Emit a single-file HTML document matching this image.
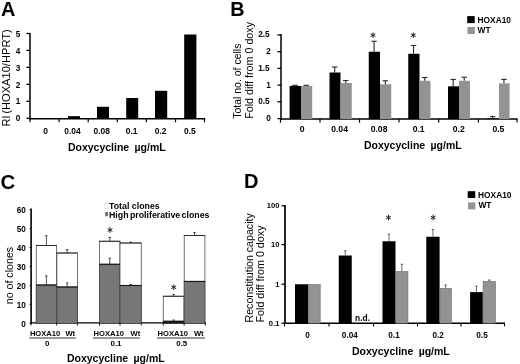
<!DOCTYPE html><html><head><meta charset="utf-8"><style>html,body{margin:0;padding:0;background:#fff;}svg{display:block;will-change:transform;opacity:0.999}text{font-family:"Liberation Sans",sans-serif;fill:#000}.b{font-weight:bold}</style></head><body>
<svg width="520" height="364" viewBox="0 0 520 364">
<rect width="520" height="364" fill="#fff"/>
<text x="1.1" y="15.5" font-size="19.9" text-anchor="start" class="b">A</text>
<text x="230.3" y="15.6" font-size="19.8" text-anchor="start" class="b">B</text>
<text x="0.4" y="189.3" font-size="20.4" text-anchor="start" class="b">C</text>
<text x="243.9" y="187.8" font-size="20" text-anchor="start" class="b">D</text>
<line x1="30" y1="32.9" x2="30" y2="119.5" stroke="#000" stroke-width="1.5"/>
<line x1="29.3" y1="118.8" x2="205.2" y2="118.8" stroke="#000" stroke-width="1.5"/>
<line x1="26.4" y1="33.5" x2="30" y2="33.5" stroke="#000" stroke-width="1.3"/>
<text transform="translate(20.4,36.6) scale(0.93,1)" font-size="8.8" text-anchor="end" class="b">5</text>
<line x1="26.4" y1="50.4" x2="30" y2="50.4" stroke="#000" stroke-width="1.3"/>
<text transform="translate(20.4,53.5) scale(0.93,1)" font-size="8.8" text-anchor="end" class="b">4</text>
<line x1="26.4" y1="67.4" x2="30" y2="67.4" stroke="#000" stroke-width="1.3"/>
<text transform="translate(20.4,70.5) scale(0.93,1)" font-size="8.8" text-anchor="end" class="b">3</text>
<line x1="26.4" y1="84.4" x2="30" y2="84.4" stroke="#000" stroke-width="1.3"/>
<text transform="translate(20.4,87.5) scale(0.93,1)" font-size="8.8" text-anchor="end" class="b">2</text>
<line x1="26.4" y1="101.3" x2="30" y2="101.3" stroke="#000" stroke-width="1.3"/>
<text transform="translate(20.4,104.39999999999999) scale(0.93,1)" font-size="8.8" text-anchor="end" class="b">1</text>
<line x1="26.4" y1="118.3" x2="30" y2="118.3" stroke="#000" stroke-width="1.3"/>
<text transform="translate(20.4,121.39999999999999) scale(0.93,1)" font-size="8.8" text-anchor="end" class="b">0</text>
<line x1="30" y1="118.8" x2="30" y2="122.3" stroke="#000" stroke-width="1.2"/>
<line x1="59.1" y1="118.8" x2="59.1" y2="122.3" stroke="#000" stroke-width="1.2"/>
<line x1="88.2" y1="118.8" x2="88.2" y2="122.3" stroke="#000" stroke-width="1.2"/>
<line x1="117.3" y1="118.8" x2="117.3" y2="122.3" stroke="#000" stroke-width="1.2"/>
<line x1="146.4" y1="118.8" x2="146.4" y2="122.3" stroke="#000" stroke-width="1.2"/>
<line x1="175.5" y1="118.8" x2="175.5" y2="122.3" stroke="#000" stroke-width="1.2"/>
<line x1="204.5" y1="118.8" x2="204.5" y2="122.3" stroke="#000" stroke-width="1.2"/>
<text transform="translate(45.55,133.7) scale(0.93,1)" font-size="9.1" text-anchor="middle" class="b">0</text>
<text transform="translate(72.45,133.7) scale(0.93,1)" font-size="9.1" text-anchor="middle" class="b">0.04</text>
<text transform="translate(101.75,133.7) scale(0.93,1)" font-size="9.1" text-anchor="middle" class="b">0.08</text>
<text transform="translate(131.54999999999998,133.7) scale(0.93,1)" font-size="9.1" text-anchor="middle" class="b">0.1</text>
<text transform="translate(160.64999999999998,133.7) scale(0.93,1)" font-size="9.1" text-anchor="middle" class="b">0.2</text>
<text transform="translate(189.8,133.7) scale(0.93,1)" font-size="9.1" text-anchor="middle" class="b">0.5</text>
<rect x="68" y="116.2" width="12" height="2.5999999999999943" fill="#000"/>
<rect x="97" y="106.8" width="12" height="12.0" fill="#000"/>
<rect x="126.2" y="98" width="11.999999999999986" height="20.799999999999997" fill="#000"/>
<rect x="155" y="90.8" width="12.199999999999989" height="28.0" fill="#000"/>
<rect x="184.2" y="34.5" width="12.200000000000017" height="84.3" fill="#000"/>
<text x="116.8" y="151.1" font-size="10.5" text-anchor="middle" class="b" word-spacing="2.4">Doxycycline µg/mL</text>
<text transform="translate(10.3,126.2) rotate(-90)" font-size="10.6" text-anchor="start">RI</text>
<text transform="translate(10.3,113.7) rotate(-90)" font-size="10.8" text-anchor="start" textLength="84.4" lengthAdjust="spacingAndGlyphs">(HOXA10/HPRT)</text>
<line x1="281" y1="34.1" x2="281" y2="119.7" stroke="#000" stroke-width="1.5"/>
<line x1="280.3" y1="119.0" x2="517.6" y2="119.0" stroke="#000" stroke-width="1.5"/>
<line x1="277.5" y1="35" x2="281" y2="35" stroke="#000" stroke-width="1.3"/>
<text transform="translate(269.6,37.4) scale(0.93,1)" font-size="8.8" text-anchor="end" class="b">2.5</text>
<line x1="277.5" y1="51.7" x2="281" y2="51.7" stroke="#000" stroke-width="1.3"/>
<text transform="translate(270.8,54.1) scale(0.93,1)" font-size="8.8" text-anchor="end" class="b">2</text>
<line x1="277.5" y1="68.4" x2="281" y2="68.4" stroke="#000" stroke-width="1.3"/>
<text transform="translate(269.6,70.80000000000001) scale(0.93,1)" font-size="8.8" text-anchor="end" class="b">1.5</text>
<line x1="277.5" y1="85.1" x2="281" y2="85.1" stroke="#000" stroke-width="1.3"/>
<text transform="translate(270.8,87.5) scale(0.93,1)" font-size="8.8" text-anchor="end" class="b">1</text>
<line x1="277.5" y1="101.8" x2="281" y2="101.8" stroke="#000" stroke-width="1.3"/>
<text transform="translate(269.6,104.2) scale(0.93,1)" font-size="8.8" text-anchor="end" class="b">0.5</text>
<line x1="277.5" y1="118.6" x2="281" y2="118.6" stroke="#000" stroke-width="1.3"/>
<text transform="translate(270.8,121.0) scale(0.93,1)" font-size="8.8" text-anchor="end" class="b">0</text>
<line x1="280.5" y1="119.0" x2="280.5" y2="122.6" stroke="#000" stroke-width="1.2"/>
<line x1="320" y1="119.0" x2="320" y2="122.6" stroke="#000" stroke-width="1.2"/>
<line x1="359.5" y1="119.0" x2="359.5" y2="122.6" stroke="#000" stroke-width="1.2"/>
<line x1="399" y1="119.0" x2="399" y2="122.6" stroke="#000" stroke-width="1.2"/>
<line x1="438.7" y1="119.0" x2="438.7" y2="122.6" stroke="#000" stroke-width="1.2"/>
<line x1="478.4" y1="119.0" x2="478.4" y2="122.6" stroke="#000" stroke-width="1.2"/>
<line x1="517" y1="119.0" x2="517" y2="122.6" stroke="#000" stroke-width="1.2"/>
<text transform="translate(302.05,132.1) scale(0.93,1)" font-size="9.3" text-anchor="middle" class="b">0</text>
<text transform="translate(339.55,132.1) scale(0.93,1)" font-size="9.3" text-anchor="middle" class="b">0.04</text>
<text transform="translate(379.05,132.1) scale(0.93,1)" font-size="9.3" text-anchor="middle" class="b">0.08</text>
<text transform="translate(418.65000000000003,132.1) scale(0.93,1)" font-size="9.3" text-anchor="middle" class="b">0.1</text>
<text transform="translate(458.74999999999994,132.1) scale(0.93,1)" font-size="9.3" text-anchor="middle" class="b">0.2</text>
<text transform="translate(498.4,132.1) scale(0.93,1)" font-size="9.3" text-anchor="middle" class="b">0.5</text>
<rect x="289.6" y="85.9" width="11.399999999999977" height="33.099999999999994" fill="#000"/>
<rect x="301" y="85.9" width="11.199999999999989" height="33.099999999999994" fill="#939393"/>
<line x1="295.0" y1="85.9" x2="295.0" y2="85.3" stroke="#2a2a2a" stroke-width="1.1"/>
<line x1="292.3" y1="85.3" x2="297.7" y2="85.3" stroke="#2a2a2a" stroke-width="1.1"/>
<line x1="306.3" y1="85.9" x2="306.3" y2="85.3" stroke="#2a2a2a" stroke-width="1.1"/>
<line x1="303.6" y1="85.3" x2="309.0" y2="85.3" stroke="#2a2a2a" stroke-width="1.1"/>
<rect x="329.5" y="72.5" width="11.0" height="46.5" fill="#000"/>
<rect x="340.5" y="83" width="11.25" height="36.0" fill="#939393"/>
<line x1="334.7" y1="72.5" x2="334.7" y2="67" stroke="#2a2a2a" stroke-width="1.1"/>
<line x1="332.0" y1="67" x2="337.4" y2="67" stroke="#2a2a2a" stroke-width="1.1"/>
<line x1="345.825" y1="83" x2="345.825" y2="80.5" stroke="#2a2a2a" stroke-width="1.1"/>
<line x1="343.125" y1="80.5" x2="348.525" y2="80.5" stroke="#2a2a2a" stroke-width="1.1"/>
<rect x="368.75" y="51.75" width="11.25" height="67.25" fill="#000"/>
<rect x="380" y="84.25" width="11.25" height="34.75" fill="#939393"/>
<line x1="374.075" y1="51.75" x2="374.075" y2="41.25" stroke="#2a2a2a" stroke-width="1.1"/>
<line x1="371.375" y1="41.25" x2="376.775" y2="41.25" stroke="#2a2a2a" stroke-width="1.1"/>
<line x1="385.325" y1="84.25" x2="385.325" y2="80.75" stroke="#2a2a2a" stroke-width="1.1"/>
<line x1="382.625" y1="80.75" x2="388.025" y2="80.75" stroke="#2a2a2a" stroke-width="1.1"/>
<rect x="408.25" y="53.75" width="11.25" height="65.25" fill="#000"/>
<rect x="419.5" y="80.75" width="11.0" height="38.25" fill="#939393"/>
<line x1="413.575" y1="53.75" x2="413.575" y2="45.5" stroke="#2a2a2a" stroke-width="1.1"/>
<line x1="410.875" y1="45.5" x2="416.275" y2="45.5" stroke="#2a2a2a" stroke-width="1.1"/>
<line x1="424.7" y1="80.75" x2="424.7" y2="77.5" stroke="#2a2a2a" stroke-width="1.1"/>
<line x1="422.0" y1="77.5" x2="427.4" y2="77.5" stroke="#2a2a2a" stroke-width="1.1"/>
<rect x="448" y="86.3" width="11" height="32.7" fill="#000"/>
<rect x="459" y="80.8" width="11" height="38.2" fill="#939393"/>
<line x1="453.2" y1="86.3" x2="453.2" y2="79.4" stroke="#2a2a2a" stroke-width="1.1"/>
<line x1="450.5" y1="79.4" x2="455.9" y2="79.4" stroke="#2a2a2a" stroke-width="1.1"/>
<line x1="464.2" y1="80.8" x2="464.2" y2="77.2" stroke="#2a2a2a" stroke-width="1.1"/>
<line x1="461.5" y1="77.2" x2="466.9" y2="77.2" stroke="#2a2a2a" stroke-width="1.1"/>
<rect x="487" y="118.4" width="11.899999999999977" height="0.5999999999999943" fill="#000"/>
<rect x="498.9" y="83.4" width="10.700000000000045" height="35.599999999999994" fill="#939393"/>
<line x1="492.65" y1="118.4" x2="492.65" y2="116.6" stroke="#2a2a2a" stroke-width="1.1"/>
<line x1="489.95" y1="116.6" x2="495.34999999999997" y2="116.6" stroke="#2a2a2a" stroke-width="1.1"/>
<line x1="503.95" y1="83.4" x2="503.95" y2="79.4" stroke="#2a2a2a" stroke-width="1.1"/>
<line x1="501.25" y1="79.4" x2="506.65" y2="79.4" stroke="#2a2a2a" stroke-width="1.1"/>
<line x1="373.0" y1="32.4" x2="373.0" y2="38.0" stroke="#222" stroke-width="1.0"/>
<line x1="375.42" y1="33.8" x2="370.58" y2="36.6" stroke="#222" stroke-width="1.0"/>
<line x1="375.42" y1="36.6" x2="370.58" y2="33.8" stroke="#222" stroke-width="1.0"/>
<line x1="413.3" y1="32.4" x2="413.3" y2="38.0" stroke="#222" stroke-width="1.0"/>
<line x1="415.72" y1="33.8" x2="410.88" y2="36.6" stroke="#222" stroke-width="1.0"/>
<line x1="415.72" y1="36.6" x2="410.88" y2="33.8" stroke="#222" stroke-width="1.0"/>
<text x="412.8" y="148.5" font-size="10.5" text-anchor="middle" class="b" word-spacing="2.4">Doxycycline µg/mL</text>
<text transform="translate(240.9,118.8) rotate(-90)" font-size="10.5" text-anchor="start" textLength="75.2" lengthAdjust="spacingAndGlyphs">Total no. of cells</text>
<text transform="translate(253.0,118.8) rotate(-90)" font-size="10.5" text-anchor="start" textLength="96.8" lengthAdjust="spacingAndGlyphs">Fold diff from 0 doxy</text>
<rect x="467.2" y="16.1" width="7.5" height="7.0" fill="#000"/>
<text transform="translate(477.6,22.5) scale(0.96,1)" font-size="8.7" text-anchor="start" class="b">HOXA10</text>
<rect x="467.5" y="27" width="7.3" height="7" fill="#939393"/>
<text transform="translate(477.6,32.6) scale(0.96,1)" font-size="8.7" text-anchor="start" class="b">WT</text>
<line x1="31.1" y1="208.5" x2="31.1" y2="324.0" stroke="#000" stroke-width="1.6"/>
<line x1="30.3" y1="322.8" x2="206" y2="322.8" stroke="#000" stroke-width="1.3"/>
<line x1="29.5" y1="323.3" x2="31.1" y2="323.3" stroke="#000" stroke-width="0.8"/>
<text transform="translate(25.9,327.3) scale(0.93,1)" font-size="8.8" text-anchor="end" class="b">0</text>
<line x1="29.5" y1="304.34000000000003" x2="31.1" y2="304.34000000000003" stroke="#000" stroke-width="0.8"/>
<text transform="translate(25.9,308.3) scale(0.93,1)" font-size="8.8" text-anchor="end" class="b">10</text>
<line x1="29.5" y1="285.38" x2="31.1" y2="285.38" stroke="#000" stroke-width="0.8"/>
<text transform="translate(25.9,289.3) scale(0.93,1)" font-size="8.8" text-anchor="end" class="b">20</text>
<line x1="29.5" y1="266.42" x2="31.1" y2="266.42" stroke="#000" stroke-width="0.8"/>
<text transform="translate(25.9,270.3) scale(0.93,1)" font-size="8.8" text-anchor="end" class="b">30</text>
<line x1="29.5" y1="247.46" x2="31.1" y2="247.46" stroke="#000" stroke-width="0.8"/>
<text transform="translate(25.9,251.3) scale(0.93,1)" font-size="8.8" text-anchor="end" class="b">40</text>
<line x1="29.5" y1="228.5" x2="31.1" y2="228.5" stroke="#000" stroke-width="0.8"/>
<text transform="translate(25.9,232.3) scale(0.93,1)" font-size="8.8" text-anchor="end" class="b">50</text>
<line x1="29.5" y1="209.54000000000002" x2="31.1" y2="209.54000000000002" stroke="#000" stroke-width="0.8"/>
<text transform="translate(25.9,213.3) scale(0.93,1)" font-size="8.8" text-anchor="end" class="b">60</text>
<rect x="36.25" y="245.5" width="20.25" height="77.80000000000001" fill="#fff" stroke="#444" stroke-width="0.75"/>
<rect x="36.25" y="285" width="20.25" height="38.30000000000001" fill="#777777" stroke="#444" stroke-width="0.75"/>
<line x1="35.95" y1="245.5" x2="56.8" y2="245.5" stroke="#222" stroke-width="0.9"/>
<line x1="35.95" y1="285" x2="56.8" y2="285" stroke="#111" stroke-width="1.1"/>
<line x1="46.375" y1="245.5" x2="46.375" y2="235.7" stroke="#222" stroke-width="0.8"/>
<line x1="45.125" y1="235.7" x2="47.625" y2="235.7" stroke="#222" stroke-width="0.8"/>
<line x1="46.375" y1="285" x2="46.375" y2="275.9" stroke="#222" stroke-width="0.8"/>
<line x1="45.125" y1="275.9" x2="47.625" y2="275.9" stroke="#222" stroke-width="0.8"/>
<rect x="56.9" y="253" width="20.500000000000007" height="70.30000000000001" fill="#fff" stroke="#444" stroke-width="0.75"/>
<rect x="56.9" y="287" width="20.500000000000007" height="36.30000000000001" fill="#777777" stroke="#444" stroke-width="0.75"/>
<line x1="56.6" y1="253" x2="77.7" y2="253" stroke="#222" stroke-width="0.9"/>
<line x1="56.6" y1="287" x2="77.7" y2="287" stroke="#111" stroke-width="1.1"/>
<line x1="67.15" y1="253" x2="67.15" y2="249.6" stroke="#222" stroke-width="0.8"/>
<line x1="65.9" y1="249.6" x2="68.4" y2="249.6" stroke="#222" stroke-width="0.8"/>
<line x1="67.15" y1="287" x2="67.15" y2="283" stroke="#222" stroke-width="0.8"/>
<line x1="65.9" y1="283" x2="68.4" y2="283" stroke="#222" stroke-width="0.8"/>
<rect x="99.5" y="241.25" width="20.5" height="82.05000000000001" fill="#fff" stroke="#444" stroke-width="0.75"/>
<rect x="99.5" y="264.25" width="20.5" height="59.05000000000001" fill="#777777" stroke="#444" stroke-width="0.75"/>
<line x1="99.2" y1="241.25" x2="120.3" y2="241.25" stroke="#222" stroke-width="0.9"/>
<line x1="99.2" y1="264.25" x2="120.3" y2="264.25" stroke="#111" stroke-width="1.1"/>
<line x1="109.75" y1="241.25" x2="109.75" y2="237.5" stroke="#222" stroke-width="0.8"/>
<line x1="108.5" y1="237.5" x2="111.0" y2="237.5" stroke="#222" stroke-width="0.8"/>
<line x1="109.75" y1="264.25" x2="109.75" y2="258.25" stroke="#222" stroke-width="0.8"/>
<line x1="108.5" y1="258.25" x2="111.0" y2="258.25" stroke="#222" stroke-width="0.8"/>
<rect x="120" y="243" width="21.25" height="80.30000000000001" fill="#fff" stroke="#444" stroke-width="0.75"/>
<rect x="120" y="285.5" width="21.25" height="37.80000000000001" fill="#777777" stroke="#444" stroke-width="0.75"/>
<line x1="119.7" y1="243" x2="141.55" y2="243" stroke="#222" stroke-width="0.9"/>
<line x1="119.7" y1="285.5" x2="141.55" y2="285.5" stroke="#111" stroke-width="1.1"/>
<line x1="130.625" y1="243" x2="130.625" y2="242" stroke="#222" stroke-width="0.8"/>
<line x1="129.375" y1="242" x2="131.875" y2="242" stroke="#222" stroke-width="0.8"/>
<line x1="130.625" y1="285.5" x2="130.625" y2="284.5" stroke="#222" stroke-width="0.8"/>
<line x1="129.375" y1="284.5" x2="131.875" y2="284.5" stroke="#222" stroke-width="0.8"/>
<rect x="163.25" y="296.25" width="20.75" height="27.05000000000001" fill="#fff" stroke="#444" stroke-width="0.75"/>
<rect x="163.25" y="321.25" width="20.75" height="2.0500000000000114" fill="#111" stroke="#444" stroke-width="0.75"/>
<line x1="162.95" y1="296.25" x2="184.3" y2="296.25" stroke="#222" stroke-width="0.9"/>
<line x1="162.95" y1="321.25" x2="184.3" y2="321.25" stroke="#111" stroke-width="1.1"/>
<line x1="173.625" y1="296.25" x2="173.625" y2="294.5" stroke="#222" stroke-width="0.8"/>
<line x1="172.375" y1="294.5" x2="174.875" y2="294.5" stroke="#222" stroke-width="0.8"/>
<line x1="173.625" y1="321.25" x2="173.625" y2="320" stroke="#222" stroke-width="0.8"/>
<line x1="172.375" y1="320" x2="174.875" y2="320" stroke="#222" stroke-width="0.8"/>
<rect x="184.2" y="235.5" width="20.700000000000017" height="87.80000000000001" fill="#fff" stroke="#444" stroke-width="0.75"/>
<rect x="184.2" y="281.4" width="20.700000000000017" height="41.900000000000034" fill="#777777" stroke="#444" stroke-width="0.75"/>
<line x1="183.89999999999998" y1="235.5" x2="205.20000000000002" y2="235.5" stroke="#222" stroke-width="0.9"/>
<line x1="183.89999999999998" y1="281.4" x2="205.20000000000002" y2="281.4" stroke="#111" stroke-width="1.1"/>
<line x1="194.55" y1="235.5" x2="194.55" y2="232.5" stroke="#222" stroke-width="0.8"/>
<line x1="193.3" y1="232.5" x2="195.8" y2="232.5" stroke="#222" stroke-width="0.8"/>
<line x1="31" y1="322.8" x2="31" y2="325.5" stroke="#000" stroke-width="0.9"/>
<line x1="56.7" y1="322.8" x2="56.7" y2="325.5" stroke="#000" stroke-width="0.9"/>
<line x1="77.4" y1="322.8" x2="77.4" y2="325.5" stroke="#000" stroke-width="0.9"/>
<line x1="99.5" y1="322.8" x2="99.5" y2="325.5" stroke="#000" stroke-width="0.9"/>
<line x1="120" y1="322.8" x2="120" y2="325.5" stroke="#000" stroke-width="0.9"/>
<line x1="141.25" y1="322.8" x2="141.25" y2="325.5" stroke="#000" stroke-width="0.9"/>
<line x1="163.25" y1="322.8" x2="163.25" y2="325.5" stroke="#000" stroke-width="0.9"/>
<line x1="184.1" y1="322.8" x2="184.1" y2="325.5" stroke="#000" stroke-width="0.9"/>
<line x1="205.2" y1="322.8" x2="205.2" y2="325.5" stroke="#000" stroke-width="0.9"/>
<line x1="110.0" y1="227.2" x2="110.0" y2="232.8" stroke="#222" stroke-width="1.0"/>
<line x1="112.42" y1="228.6" x2="107.58" y2="231.4" stroke="#222" stroke-width="1.0"/>
<line x1="112.42" y1="231.4" x2="107.58" y2="228.6" stroke="#222" stroke-width="1.0"/>
<line x1="173.75" y1="284.5" x2="173.75" y2="290.1" stroke="#222" stroke-width="1.0"/>
<line x1="176.17" y1="285.9" x2="171.33" y2="288.7" stroke="#222" stroke-width="1.0"/>
<line x1="176.17" y1="288.7" x2="171.33" y2="285.9" stroke="#222" stroke-width="1.0"/>
<text x="29.9" y="335.6" font-size="7.6" text-anchor="start" class="b">HOXA10</text>
<text x="65.4" y="335.6" font-size="7.6" text-anchor="start" class="b">Wt</text>
<line x1="29.3" y1="338.0" x2="75.8" y2="338.0" stroke="#000" stroke-width="0.8"/>
<text x="47.3" y="345.7" font-size="8" text-anchor="middle" class="b">0</text>
<text x="93.6" y="335.6" font-size="7.6" text-anchor="start" class="b">HOXA10</text>
<text x="130.6" y="335.6" font-size="7.6" text-anchor="start" class="b">Wt</text>
<line x1="93" y1="338.0" x2="139.8" y2="338.0" stroke="#000" stroke-width="0.8"/>
<text x="116" y="345.7" font-size="8" text-anchor="middle" class="b">0.1</text>
<text x="157.5" y="335.6" font-size="7.6" text-anchor="start" class="b">HOXA10</text>
<text x="193.9" y="335.6" font-size="7.6" text-anchor="start" class="b">Wt</text>
<line x1="157" y1="338.0" x2="205" y2="338.0" stroke="#000" stroke-width="0.8"/>
<text x="181.75" y="345.7" font-size="8" text-anchor="middle" class="b">0.5</text>
<text x="115.8" y="361.5" font-size="10.5" text-anchor="middle" class="b" word-spacing="2.4">Doxycycline µg/mL</text>
<text transform="translate(12.7,304.3) rotate(-90)" font-size="11" text-anchor="start" textLength="57.5" lengthAdjust="spacingAndGlyphs">no of clones</text>
<rect x="105" y="203.8" width="3" height="5" fill="#fff" stroke="#ccc" stroke-width="0.5"/>
<text x="109" y="209.3" font-size="8.8" text-anchor="start" class="b">Total clones</text>
<rect x="105.3" y="212" width="2.6" height="4.2" fill="#666"/>
<text x="109" y="217.5" font-size="8.8" text-anchor="start" class="b" word-spacing="-1.1">High proliferative clones</text>
<line x1="285" y1="205.1" x2="285" y2="323.9" stroke="#000" stroke-width="1.7"/>
<line x1="284.2" y1="323.2" x2="505" y2="323.2" stroke="#000" stroke-width="1.5"/>
<line x1="281.5" y1="205.8" x2="285" y2="205.8" stroke="#000" stroke-width="1.3"/>
<text transform="translate(279.4,207.8) scale(0.96,1)" font-size="7.9" text-anchor="end" class="b">100</text>
<line x1="281.5" y1="244.6" x2="285" y2="244.6" stroke="#000" stroke-width="1.3"/>
<text transform="translate(279.4,247.29999999999998) scale(0.96,1)" font-size="7.9" text-anchor="end" class="b">10</text>
<line x1="281.5" y1="284.2" x2="285" y2="284.2" stroke="#000" stroke-width="1.3"/>
<text transform="translate(279.4,286.9) scale(0.96,1)" font-size="7.9" text-anchor="end" class="b">1</text>
<line x1="281.5" y1="323.2" x2="285" y2="323.2" stroke="#000" stroke-width="1.3"/>
<text transform="translate(279.4,325.9) scale(0.96,1)" font-size="7.9" text-anchor="end" class="b">0.1</text>
<line x1="284.5" y1="323.2" x2="284.5" y2="326.4" stroke="#000" stroke-width="1.1"/>
<line x1="329" y1="323.2" x2="329" y2="326.4" stroke="#000" stroke-width="1.1"/>
<line x1="373.6" y1="323.2" x2="373.6" y2="326.4" stroke="#000" stroke-width="1.1"/>
<line x1="417.5" y1="323.2" x2="417.5" y2="326.4" stroke="#000" stroke-width="1.1"/>
<line x1="461" y1="323.2" x2="461" y2="326.4" stroke="#000" stroke-width="1.1"/>
<line x1="504.5" y1="323.2" x2="504.5" y2="326.4" stroke="#000" stroke-width="1.1"/>
<text transform="translate(307.4,337.7) scale(0.93,1)" font-size="8.8" text-anchor="middle" class="b">0</text>
<text transform="translate(349.8,337.7) scale(0.93,1)" font-size="8.8" text-anchor="middle" class="b">0.04</text>
<text transform="translate(394,337.7) scale(0.93,1)" font-size="8.8" text-anchor="middle" class="b">0.1</text>
<text transform="translate(438.2,337.7) scale(0.93,1)" font-size="8.8" text-anchor="middle" class="b">0.2</text>
<text transform="translate(482,337.7) scale(0.93,1)" font-size="8.8" text-anchor="middle" class="b">0.5</text>
<rect x="295" y="284.25" width="13" height="38.94999999999999" fill="#000"/>
<rect x="308.3" y="284.55" width="11.9" height="38.64999999999999" fill="#939393" stroke="#666" stroke-width="0.6"/>
<rect x="338.75" y="255.5" width="13.0" height="67.69999999999999" fill="#000"/>
<line x1="345.25" y1="255.5" x2="345.25" y2="250.75" stroke="#444" stroke-width="0.8"/>
<line x1="344.0" y1="250.75" x2="346.5" y2="250.75" stroke="#444" stroke-width="0.8"/>
<rect x="382.5" y="241.25" width="13.0" height="81.94999999999999" fill="#000"/>
<line x1="389.0" y1="241.25" x2="389.0" y2="234.25" stroke="#444" stroke-width="0.8"/>
<line x1="387.75" y1="234.25" x2="390.25" y2="234.25" stroke="#444" stroke-width="0.8"/>
<rect x="395.8" y="271.55" width="12.15" height="51.64999999999999" fill="#939393" stroke="#666" stroke-width="0.6"/>
<line x1="401.875" y1="271.25" x2="401.875" y2="264.25" stroke="#444" stroke-width="0.8"/>
<line x1="400.625" y1="264.25" x2="403.125" y2="264.25" stroke="#444" stroke-width="0.8"/>
<rect x="426.3" y="236.75" width="13.300000000000011" height="86.44999999999999" fill="#000"/>
<line x1="432.95000000000005" y1="236.75" x2="432.95000000000005" y2="229.5" stroke="#444" stroke-width="0.8"/>
<line x1="431.70000000000005" y1="229.5" x2="434.20000000000005" y2="229.5" stroke="#444" stroke-width="0.8"/>
<rect x="439.90000000000003" y="288.3" width="11.549999999999978" height="34.89999999999999" fill="#939393" stroke="#666" stroke-width="0.6"/>
<line x1="445.675" y1="288" x2="445.675" y2="285" stroke="#444" stroke-width="0.8"/>
<line x1="444.425" y1="285" x2="446.925" y2="285" stroke="#444" stroke-width="0.8"/>
<rect x="470.1" y="292.1" width="12.699999999999989" height="31.099999999999966" fill="#000"/>
<line x1="476.45000000000005" y1="292.1" x2="476.45000000000005" y2="286.1" stroke="#444" stroke-width="0.8"/>
<line x1="475.20000000000005" y1="286.1" x2="477.70000000000005" y2="286.1" stroke="#444" stroke-width="0.8"/>
<rect x="483.1" y="281.5" width="12.299999999999978" height="41.7" fill="#939393" stroke="#666" stroke-width="0.6"/>
<line x1="489.25" y1="281.2" x2="489.25" y2="280" stroke="#444" stroke-width="0.8"/>
<line x1="488.0" y1="280" x2="490.5" y2="280" stroke="#444" stroke-width="0.8"/>
<text x="355.1" y="321" font-size="8.4" text-anchor="start" class="b">n.d.</text>
<line x1="388.5" y1="214.7" x2="388.5" y2="220.3" stroke="#222" stroke-width="1.0"/>
<line x1="390.92" y1="216.1" x2="386.08" y2="218.9" stroke="#222" stroke-width="1.0"/>
<line x1="390.92" y1="218.9" x2="386.08" y2="216.1" stroke="#222" stroke-width="1.0"/>
<line x1="433.2" y1="214.7" x2="433.2" y2="220.3" stroke="#222" stroke-width="1.0"/>
<line x1="435.62" y1="216.1" x2="430.78" y2="218.9" stroke="#222" stroke-width="1.0"/>
<line x1="435.62" y1="218.9" x2="430.78" y2="216.1" stroke="#222" stroke-width="1.0"/>
<text x="400.9" y="355.1" font-size="10.5" text-anchor="middle" class="b" word-spacing="2.4">Doxycycline µg/mL</text>
<text transform="translate(252.8,322.5) rotate(-90)" font-size="10.5" text-anchor="start" textLength="109.3" lengthAdjust="spacingAndGlyphs">Reconstitution capacity</text>
<text transform="translate(264.4,322.5) rotate(-90)" font-size="10.5" text-anchor="start" textLength="97" lengthAdjust="spacingAndGlyphs">Fold diff from 0 doxy</text>
<rect x="467.7" y="191.2" width="7.5" height="6.8" fill="#000"/>
<text transform="translate(478.1,197.5) scale(0.96,1)" font-size="8.7" text-anchor="start" class="b">HOXA10</text>
<rect x="468" y="202.4" width="7.3" height="7" fill="#939393"/>
<text transform="translate(478.5,207.5) scale(0.96,1)" font-size="8.7" text-anchor="start" class="b">WT</text>
</svg></body></html>
